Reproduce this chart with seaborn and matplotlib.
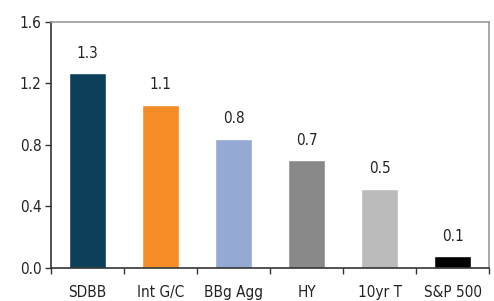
import matplotlib
matplotlib.use("Agg")
import matplotlib.pyplot as plt
import seaborn as sns
import pandas as pd
from matplotlib import font_manager

categories = ["SDBB", "Int G/C", "BBg Agg", "HY", "10yr T", "S&P 500"]
values = [1.268, 1.06, 0.84, 0.70, 0.515, 0.078]
labels = ["1.3", "1.1", "0.8", "0.7", "0.5", "0.1"]
colors = ["#0C3F5A", "#F58C25", "#95A9D5", "#898989", "#BBBBBB", "#000000"]
yticks = [0.0, 0.4, 0.8, 1.2, 1.6]

sns.set_theme(style="white")
names = {f.name for f in font_manager.fontManager.ttflist}
fam = "Liberation Sans Narrow" if "Liberation Sans Narrow" in names else "DejaVu Sans"
plt.rcParams["font.family"] = [fam, "DejaVu Sans"]
plt.rcParams["font.stretch"] = "condensed"

FS = 11
df = pd.DataFrame({"cat": categories, "val": values})
fig = plt.figure(figsize=(4.94, 3.01), dpi=100)
ax = fig.add_axes([0.1032, 0.1096, 0.887, 0.8175])
sns.barplot(data=df, x="cat", y="val", hue="cat", palette=colors, width=0.51,
            saturation=1, legend=False, ax=ax)

for i, (v, t) in enumerate(zip(values, labels)):
    ax.annotate(t, (i, v), xytext=(0, 9), textcoords="offset points",
                ha="center", va="bottom", fontsize=FS, color="#222222")

ax.set_ylim(0, 1.6)
ax.set_xlim(-0.5, len(categories) - 0.5)
ax.set_yticks(yticks)
ax.set_yticklabels([f"{t:.1f}" for t in yticks], fontsize=FS, color="#222222")
ax.set_xticks(range(len(categories)))
ax.set_xticklabels(categories, fontsize=FS, color="#222222")
ax.set_xticks([i - 0.5 for i in range(len(categories) + 1)], minor=True)
ax.tick_params(axis="x", which="major", length=0, pad=12)
ax.tick_params(axis="x", which="minor", length=4, width=1, color="#333333", direction="out", bottom=True)
ax.tick_params(axis="y", length=4, width=1, color="#333333", direction="out", left=True, pad=3)
ax.set_xlabel("")
ax.set_ylabel("")
for s in ["left", "bottom"]:
    ax.spines[s].set_color("#333333")
    ax.spines[s].set_linewidth(1.2)
for s in ["top", "right"]:
    ax.spines[s].set_color("#999999")
    ax.spines[s].set_linewidth(1.2)
ax.grid(False)
fig.savefig("out.png", dpi=100)
